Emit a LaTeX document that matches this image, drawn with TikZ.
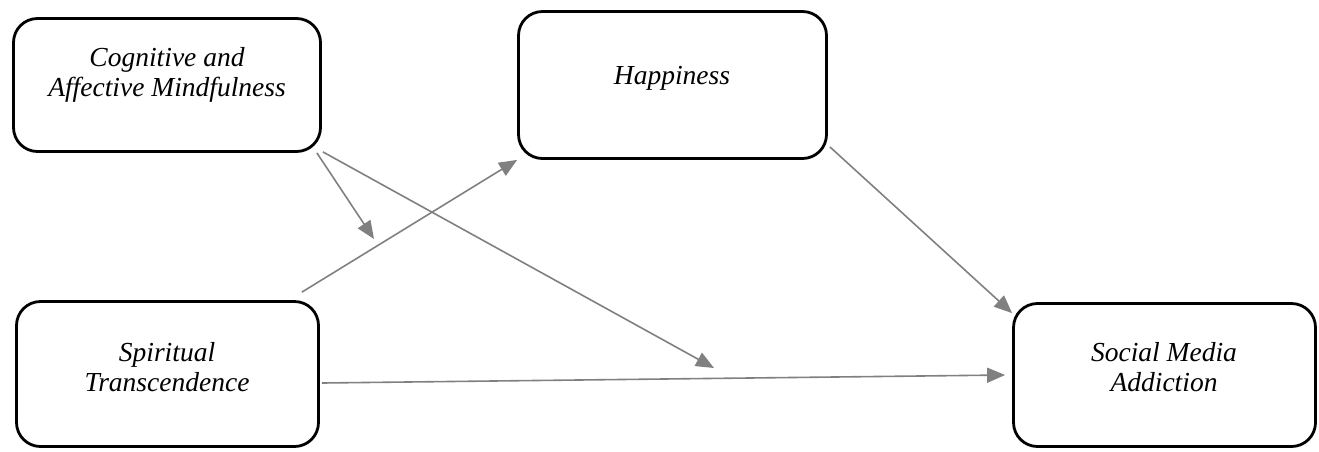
\documentclass[tikz,border=0pt]{standalone}
\usepackage{fontspec}
\setmainfont{Liberation Serif}
\usetikzlibrary{arrows.meta}
\definecolor{arrowgray}{HTML}{808080}
\begin{document}
\begin{tikzpicture}[x=1pt,y=-1pt,
  box/.style={draw=black, line width=2.8pt, rounded corners=24pt, inner sep=0pt},
  lbl/.style={font=\fontsize{27.5}{30}\selectfont\itshape, align=center, inner sep=0pt},
  conn/.style={draw=arrowgray, line width=1.6pt, -{Triangle[length=18pt,width=15pt]}}]
\useasboundingbox (0,0) rectangle (1319,451);
% boxes
\node[box, minimum width=307pt, minimum height=133pt] (cam) at (167,85) {};
\node[box, minimum width=308pt, minimum height=147pt] (hap) at (672.5,85) {};
\node[box, minimum width=302pt, minimum height=145pt] (st) at (167.5,374) {};
\node[box, minimum width=302pt, minimum height=143pt] (sma) at (1164.5,375) {};
% labels
\node[lbl] (camt) at (167,75) {Cognitive and\\Affective Mindfulness};
\node[lbl] (hapt) at (672,78) {Happiness};
\node[lbl] (stt) at (167,367) {Spiritual\\Transcendence};
\node[lbl] (smat) at (1164,367) {Social Media\\Addiction};
% free ends
\coordinate (mod) at (374,239);
\coordinate (mid) at (714,368);
% connectors
\draw[conn] ([shift={(-5,0)}]cam.south east) -- (mod);
\draw[conn] ([shift={(1,-1)}]cam.south east) -- (mid);
\draw[conn] ([shift={(-18,-8)}]st.north east) -- (hap.south west);
\draw[conn] ([shift={(2,9)}]st.east) -- ([shift={(-7,0)}]sma.west);
\draw[conn] ([shift={(2,-13)}]hap.south east) -- ([shift={(0,11)}]sma.north west);
\end{tikzpicture}
\end{document}
